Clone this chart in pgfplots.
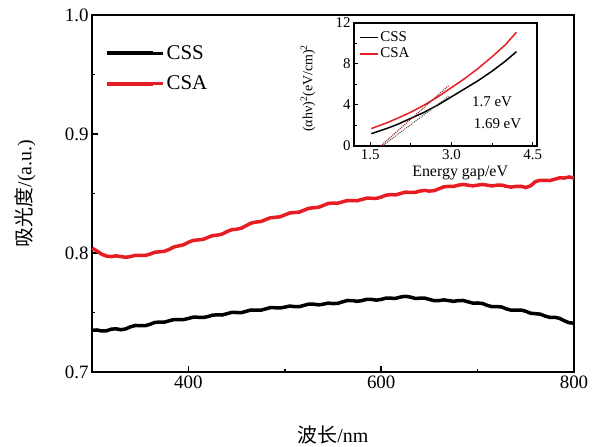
\documentclass[border=0pt]{standalone}
\usepackage{fontspec}
\setmainfont{Liberation Serif}
\newfontfamily\cjk{Noto Sans CJK SC}
\usepackage{pgfplots}
\pgfplotsset{compat=1.18}
\definecolor{cred}{RGB}{230,30,35}

\begin{document}
\begin{tikzpicture}[x=1bp,y=1bp]
\path[use as bounding box] (-92bp,-75bp) rectangle (500bp,372bp);
\begin{axis}[name=main, at={(0bp,0bp)}, anchor=south west, scale only axis,
  width=482bp, height=357bp,
  xmin=300, xmax=800, ymin=0.7, ymax=1.0,
  xtick={400,600,800}, minor xtick={500,700},
  ytick={0.7,0.8,0.9,1.0}, minor ytick={0.75,0.85,0.95},
  xtick pos=bottom, ytick pos=left, tick align=inside,
  major tick length=6bp, minor tick length=3bp,
  axis line style={line width=2.2bp},
  every tick/.style={line width=1.6bp, black},
  ticklabel style={font=\fontsize{19}{22}\selectfont},
  /pgf/number format/assume math mode=true,
  yticklabel style={/pgf/number format/.cd, fixed, precision=1, fixed zerofill},
  xlabel={{\cjk 波长}/nm}, ylabel={{\cjk 吸光度}/(a.u.)},
  label style={font=\fontsize{20}{24}\selectfont},
  xlabel style={at={(axis description cs:0.5,-0.175)}, anchor=center},
  ylabel style={at={(axis description cs:-0.139,0.5)}, anchor=center},
  legend style={draw=none, fill=none, at={(axis description cs:0.02,0.926)}, anchor=north west,
    font=\fontsize{21}{24}\selectfont, row sep=11bp},
  legend cell align=left,
  legend image code/.code={\path (0bp,0bp) -- (56bp,0bp); \draw[#1, line width=4bp] (0bp,0bp) -- (46bp,0bp);},
]
\addplot[black, line width=3.5bp] coordinates {
(300,.735)(305,.7353)(310,.7345)(315,.7346)(320,.736)(325,.7363)(330,.7355)(335,.7362)(340,.738)(345,.7391)
(350,.739)(355,.7389)(360,.740)(365,.7416)(370,.742)(375,.7419)(380,.743)(385,.7441)(390,.744)(395,.7440)
(400,.745)(405,.7461)(410,.746)(415,.7458)(420,.7465)(425,.7478)(430,.748)(435,.7479)(440,.749)(445,.7501)
(450,.750)(455,.7499)(460,.751)(465,.7521)(470,.752)(475,.7519)(480,.753)(485,.7541)(490,.754)(495,.7538)
(500,.7545)(505,.7554)(510,.755)(515,.7549)(520,.756)(525,.7571)(530,.757)(535,.7564)(540,.757)(545,.7579)
(550,.7575)(555,.7577)(560,.759)(565,.7601)(570,.760)(575,.7594)(580,.760)(585,.7611)(590,.761)(595,.7604)
(600,.761)(605,.7621)(610,.762)(615,.7619)(620,.763)(625,.7636)(630,.763)(635,.7619)(640,.762)(645,.7621)
(650,.761)(655,.7599)(660,.760)(665,.7606)(670,.760)(675,.7594)(680,.760)(685,.7601)(690,.759)(695,.7579)
(700,.758)(705,.7576)(710,.756)(715,.7549)(720,.755)(725,.7546)(730,.753)(735,.7519)(740,.752)(745,.7521)
(750,.751)(755,.7494)(760,.749)(765,.7486)(770,.747)(775,.7459)(780,.746)(785,.7451)(790,.743)(795,.7414)
(800,.741)};
\addlegendentry{CSS}
\addplot[cred, line width=3.5bp] coordinates {
(300,.804)(305,.8018)(310,.799)(315,.7974)(320,.797)(325,.7976)(330,.797)(335,.7964)(340,.797)(345,.7981)
(350,.798)(355,.7979)(360,.799)(365,.8006)(370,.801)(375,.8014)(380,.803)(385,.8051)(390,.806)(395,.8069)
(400,.809)(405,.8106)(410,.811)(415,.8114)(420,.813)(425,.8146)(430,.815)(435,.8159)(440,.818)(445,.8196)
(450,.820)(455,.8209)(460,.823)(465,.8251)(470,.826)(475,.8264)(480,.828)(485,.8296)(490,.830)(495,.8304)
(500,.832)(505,.8336)(510,.834)(515,.8344)(520,.836)(525,.8376)(530,.838)(535,.8384)(540,.840)(545,.8416)
(550,.842)(555,.8419)(560,.843)(565,.8441)(570,.844)(575,.8439)(580,.845)(585,.8461)(590,.846)(595,.8459)
(600,.847)(605,.8486)(610,.849)(615,.8489)(620,.850)(625,.8511)(630,.851)(635,.8509)(640,.852)(645,.8526)
(650,.852)(655,.8524)(660,.854)(665,.8556)(670,.856)(675,.8559)(680,.857)(685,.8576)(690,.857)(695,.8564)
(700,.857)(705,.8576)(710,.857)(715,.8564)(720,.857)(725,.8571)(730,.856)(735,.8554)(740,.856)(745,.8561)
(750,.855)(755,.8565)(760,.860)(765,.8611)(770,.861)(775,.8609)(780,.862)(785,.8631)(790,.863)(795,.8639)
(800,.863)};
\addlegendentry{CSA}
\end{axis}

\begin{axis}[name=inset, at={(262bp,226bp)}, anchor=south west, scale only axis,
  width=183bp, height=123bp,
  xmin=1.2, xmax=4.58, ymin=0, ymax=12,
  xtick={1.5,3.0,4.5}, minor xtick={2.25,3.75},
  ytick={0,4,8,12}, minor ytick={2,6,10},
  xtick pos=bottom, ytick pos=left, tick align=inside,
  major tick length=4bp, minor tick length=2.5bp,
  axis line style={line width=1.4bp},
  every tick/.style={line width=1bp, black},
  ticklabel style={font=\fontsize{15}{18}\selectfont},
  /pgf/number format/assume math mode=true,
  xticklabel style={/pgf/number format/.cd, fixed, precision=1, fixed zerofill},
  xlabel={Energy gap/eV},
  ylabel={(αhν)\textsuperscript{2}(eV/cm)\textsuperscript{2}},
  xlabel style={font=\fontsize{16}{19}\selectfont, at={(axis description cs:0.58,-0.22)}, anchor=center},
  ylabel style={font=\fontsize{14}{16}\selectfont, at={(axis description cs:-0.251,0.47)}, anchor=center},
  legend style={draw=none, fill=none, at={(axis description cs:0.02,0.955)}, anchor=north west,
    font=\fontsize{15}{16}\selectfont, row sep=1bp, inner sep=1bp},
  legend cell align=left,
  legend image code/.code={\path (0bp,0bp) -- (18bp,0bp); \draw[#1, line width=1.6bp] (0bp,0bp) -- (15bp,0bp);},
]
\addplot[black, line width=1.5bp] coordinates {
(1.52,1.2)(1.8,1.7)(2.0,2.1)(2.25,2.7)(2.5,3.3)(2.75,4.0)(3.0,4.8)(3.25,5.6)(3.5,6.4)(3.75,7.3)(4.0,8.3)(4.2,9.2)};
\addlegendentry{CSS}
\addplot[cred, line width=1.5bp] coordinates {
(1.52,1.7)(1.8,2.25)(2.0,2.7)(2.25,3.3)(2.5,4.0)(2.75,4.8)(3.0,5.7)(3.25,6.6)(3.5,7.6)(3.75,8.7)(4.0,9.9)(4.2,11.1)};
\addlegendentry{CSA}
\addplot[cred!70!black, densely dotted, line width=1bp] coordinates {(1.69,0)(2.95,5.9)};
\addplot[black!70, densely dotted, line width=1bp] coordinates {(1.72,0)(2.95,4.85)};
\node[font=\fontsize{15}{18}\selectfont] at (axis cs:3.75,4.3) {1.7 eV};
\node[font=\fontsize{15}{18}\selectfont] at (axis cs:3.85,2.15) {1.69 eV};
\end{axis}
\end{tikzpicture}
\end{document}
